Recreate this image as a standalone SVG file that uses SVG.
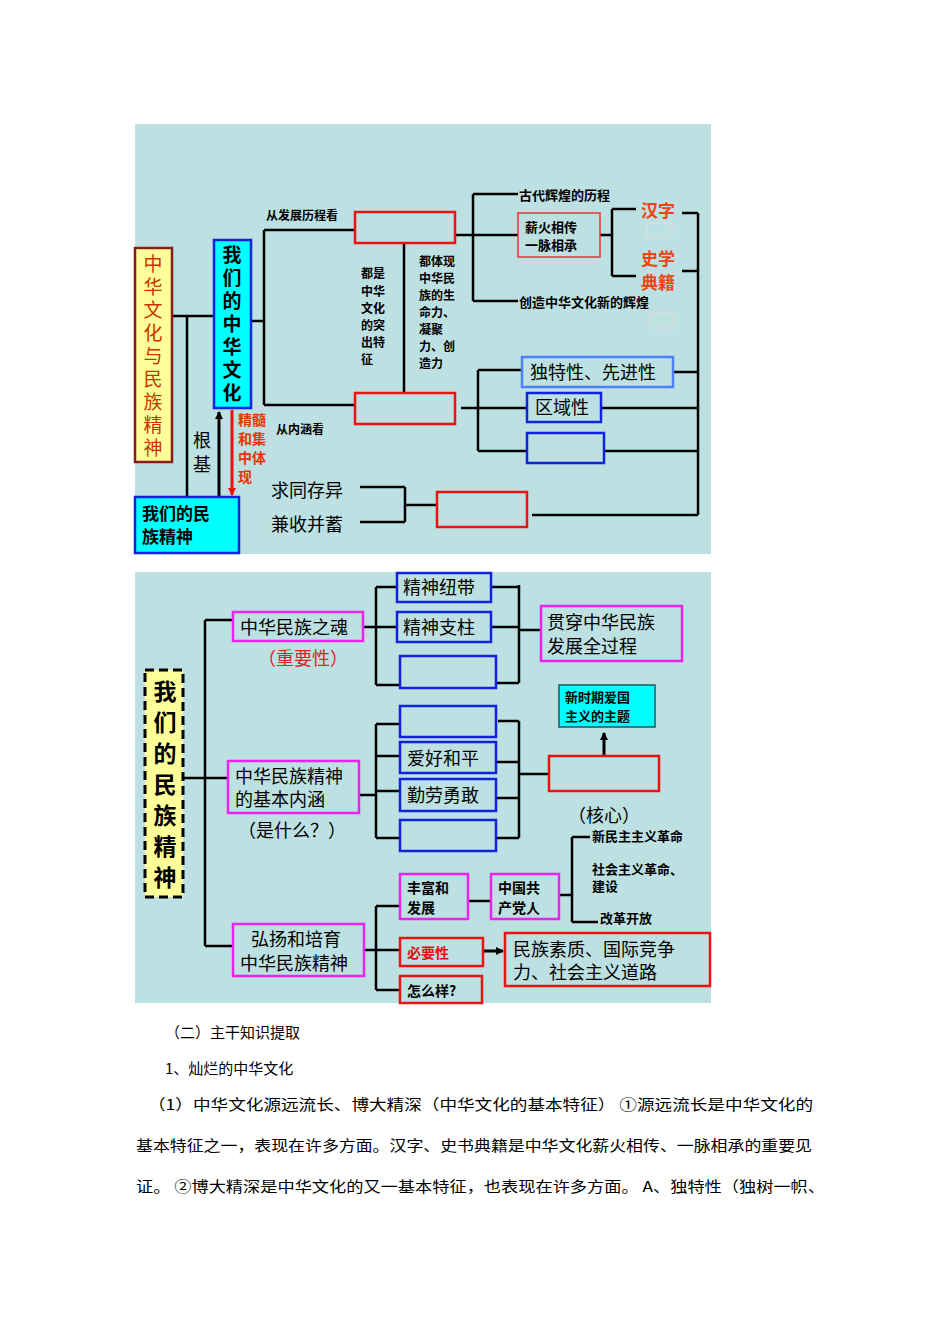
<svg xmlns="http://www.w3.org/2000/svg" width="950" height="1344" viewBox="0 0 950 1344">
<style>
text{font-family:"Noto Sans CJK SC",sans-serif;fill:#000}
.b{font-weight:bold}
.ln{stroke:#000;stroke-width:2.5;fill:none}
.rb{fill:none;stroke:#ee1111;stroke-width:2.5}
.bb{fill:none;stroke:#1122dd;stroke-width:2.5}
.mb{fill:none;stroke:#ee22ee;stroke-width:2.5}
.p{font-size:15px}
</style>
<defs>
<marker id="ab" markerWidth="8" markerHeight="8" refX="7" refY="4" orient="auto" markerUnits="userSpaceOnUse"><path d="M0,0L8,4L0,8z" fill="#000"/></marker>
<marker id="ar" markerWidth="8" markerHeight="8" refX="7" refY="4" orient="auto" markerUnits="userSpaceOnUse"><path d="M0,0L8,4L0,8z" fill="#ee1111"/></marker>
</defs>
<rect x="135" y="124" width="576" height="430" fill="#bde0e2"/>
<rect x="135" y="572" width="576" height="431" fill="#bde0e2"/>
<g id="connectors">
<path class="ln" d="M172,316H214M187,316V497M251,321H264M264,230V405M264,230H355M264,405H355M404,243V393M455,235H518M473,194V301M473,194H518M473,301H518M600,235H612M612,209V276M612,209H636M612,276H636M682,213H698M682,271H698M698,213V515M673,372H698M601,408H698M604,451H698M532,515H698M461,408H478M478,370V451M478,370H522M478,408H527M478,451H527M360,487H405M360,522H405M405,487V522M405,505H437"/>
<path d="M219,497V412" stroke="#000" stroke-width="3" marker-end="url(#ab)"/>
<path d="M232,410V495" stroke="#ee1111" stroke-width="3" marker-end="url(#ar)"/>
<path class="ln" d="M183,778H205M205,620V946M205,620H233M205,778H228M205,946H233M363,627H376M376,587V685M376,587H397M376,627H397M376,685H400M491,587H519M491,627H519M496,683H519M519,585V683M519,630H541M359,795H376M376,724V838M376,724H400M376,756H400M376,791H400M376,838H400M498,721H519M496,762H519M496,798H519M496,838H519M519,721V838M519,774H549M364,950H376M376,906V990M376,906H400M376,950H400M376,990H400M468,901H491M559,895H572M572,837V922M572,837H590M572,922H598"/>
<path d="M604,756V733" stroke="#000" stroke-width="3" marker-end="url(#ab)"/>
<path d="M483,951H503" stroke="#000" stroke-width="3" marker-end="url(#ab)"/>
</g>
<g id="n-root"><rect x="135" y="248" width="37" height="214" fill="#ffff99" stroke="#8b1a1a" stroke-width="2.5"/>
<text font-size="19" style="fill:#cc3300" text-anchor="middle"><tspan x="153" y="271">中</tspan><tspan x="153" y="294">华</tspan><tspan x="153" y="317">文</tspan><tspan x="153" y="340">化</tspan><tspan x="153" y="363">与</tspan><tspan x="153" y="386">民</tspan><tspan x="153" y="409">族</tspan><tspan x="153" y="432">精</tspan><tspan x="153" y="455">神</tspan></text></g>
<g id="n-culture"><rect x="214" y="240" width="37" height="168" fill="#00ffff" stroke="#1122dd" stroke-width="2.5"/>
<text class="b" font-size="19" text-anchor="middle"><tspan x="232" y="262">我</tspan><tspan x="232" y="285">们</tspan><tspan x="232" y="308">的</tspan><tspan x="232" y="331">中</tspan><tspan x="232" y="354">华</tspan><tspan x="232" y="377">文</tspan><tspan x="232" y="400">化</tspan></text></g>
<g id="n-spirit"><rect x="135" y="497" width="104" height="56" fill="#00ffff" stroke="#1122dd" stroke-width="2.5"/>
<text class="b" font-size="17"><tspan x="142" y="520">我们的民</tspan><tspan x="142" y="543">族精神</tspan></text></g>
<g id="labels-top">
<text class="b" x="266" y="220" font-size="12">从发展历程看</text>
<text class="b" x="276" y="434" font-size="12">从内涵看</text>
<text class="b" font-size="12"><tspan x="361" y="278">都是</tspan><tspan x="361" y="296">中华</tspan><tspan x="361" y="313">文化</tspan><tspan x="361" y="330">的突</tspan><tspan x="361" y="347">出特</tspan><tspan x="361" y="364">征</tspan></text>
<text class="b" font-size="12"><tspan x="419" y="266">都体现</tspan><tspan x="419" y="283">中华民</tspan><tspan x="419" y="300">族的生</tspan><tspan x="419" y="317">命力、</tspan><tspan x="419" y="334">凝聚</tspan><tspan x="419" y="351">力、创</tspan><tspan x="419" y="368">造力</tspan></text>
<text font-size="18"><tspan x="193" y="447">根</tspan><tspan x="193" y="471">基</tspan></text>
<text class="b" font-size="14" style="fill:#ee3300"><tspan x="238" y="425">精髓</tspan><tspan x="238" y="444">和集</tspan><tspan x="238" y="463">中体</tspan><tspan x="238" y="482">现</tspan></text>
<text class="b" x="519" y="200" font-size="13">古代辉煌的历程</text>
<text class="b" x="519" y="307" font-size="13">创造中华文化新的辉煌</text>
<text class="b" font-size="17" style="fill:#ee4411"><tspan x="641" y="217">汉字</tspan><tspan x="641" y="265">史学</tspan><tspan x="641" y="289">典籍</tspan></text>
<rect x="647" y="223" width="25" height="15" fill="none" stroke="#dddddd" stroke-width="1"/>
<rect x="650" y="313" width="25" height="15" fill="none" stroke="#dddddd" stroke-width="1"/>
<text font-size="18" x="271" y="497">求同存异</text>
<text font-size="18" x="271" y="531">兼收并蓄</text>
</g>
<g id="n-boxes-top">
<rect class="rb" x="355" y="212" width="100" height="31"/>
<rect class="rb" x="355" y="393" width="100" height="31"/>
<rect x="518" y="213" width="82" height="44" fill="none" stroke="#ee3333" stroke-width="1.5"/>
<text class="b" font-size="13"><tspan x="525" y="232">薪火相传</tspan><tspan x="525" y="250">一脉相承</tspan></text>
<rect x="522" y="357" width="151" height="30" fill="none" stroke="#4f7fff" stroke-width="2.5"/><text x="530" y="379" font-size="18">独特性、先进性</text>
<rect class="bb" x="527" y="393" width="74" height="29"/><text x="535" y="414" font-size="18">区域性</text>
<rect class="bb" x="527" y="433" width="77" height="30"/>
<rect class="rb" x="437" y="492" width="90" height="35"/>
</g>
<g id="n-root2"><rect x="145" y="670" width="38" height="227" fill="#ffff99" stroke="#000" stroke-width="3" stroke-dasharray="9,5"/>
<text class="b" font-size="23" text-anchor="middle"><tspan x="165" y="700">我</tspan><tspan x="165" y="731">们</tspan><tspan x="165" y="762">的</tspan><tspan x="165" y="793">民</tspan><tspan x="165" y="824">族</tspan><tspan x="165" y="855">精</tspan><tspan x="165" y="886">神</tspan></text></g>
<g id="n-soul"><rect class="mb" x="233" y="612" width="130" height="29"/><text x="240" y="634" font-size="18">中华民族之魂</text>
<text x="258" y="665" font-size="18" style="fill:#dd2222">（重要性）</text></g>
<g id="n-soul-kids">
<rect class="bb" x="397" y="573" width="94" height="29"/><text x="403" y="594" font-size="18">精神纽带</text>
<rect class="bb" x="397" y="612" width="94" height="30"/><text x="403" y="634" font-size="18">精神支柱</text>
<rect class="bb" x="400" y="656" width="96" height="32"/>
<rect class="mb" x="541" y="606" width="141" height="55"/><text font-size="18"><tspan x="547" y="629">贯穿中华民族</tspan><tspan x="547" y="653">发展全过程</tspan></text>
</g>
<g id="n-core">
<rect class="mb" x="228" y="761" width="131" height="52"/><text font-size="18"><tspan x="235" y="783">中华民族精神</tspan><tspan x="235" y="806">的基本内涵</tspan></text>
<text x="238" y="837" font-size="18">（是什么？）</text>
<rect class="bb" x="400" y="706" width="96" height="31"/>
<rect class="bb" x="400" y="742" width="96" height="31"/><text x="407" y="765" font-size="18">爱好和平</text>
<rect class="bb" x="400" y="779" width="96" height="32"/><text x="407" y="802" font-size="18">勤劳勇敢</text>
<rect class="bb" x="400" y="820" width="96" height="31"/>
<rect class="rb" x="549" y="756" width="110" height="35"/>
<rect x="559" y="685" width="96" height="42" fill="#00ffff" stroke="#1a5a5a" stroke-width="1.5"/><text class="b" font-size="13"><tspan x="565" y="702">新时期爱国</tspan><tspan x="565" y="721">主义的主题</tspan></text>
<text x="568" y="822" font-size="18">（核心）</text>
</g>
<g id="n-promote">
<rect class="mb" x="233" y="924" width="131" height="52"/><text font-size="18"><tspan x="251" y="946">弘扬和培育</tspan><tspan x="240" y="970">中华民族精神</tspan></text>
<rect class="mb" x="400" y="874" width="68" height="45"/><text class="b" font-size="14"><tspan x="407" y="893">丰富和</tspan><tspan x="407" y="913">发展</tspan></text>
<rect class="mb" x="491" y="874" width="68" height="45"/><text class="b" font-size="14"><tspan x="498" y="893">中国共</tspan><tspan x="498" y="913">产党人</tspan></text>
<text class="b" font-size="13"><tspan x="592" y="841">新民主主义革命</tspan><tspan x="592" y="874">社会主义革命、</tspan><tspan x="592" y="891">建设</tspan><tspan x="600" y="923">改革开放</tspan></text>
<rect class="rb" x="400" y="938" width="83" height="28"/><text class="b" x="407" y="958" font-size="14" style="fill:#dd1111">必要性</text>
<rect class="rb" x="505" y="933" width="205" height="53"/><text font-size="18"><tspan x="513" y="956">民族素质、国际竞争</tspan><tspan x="513" y="979">力、社会主义道路</tspan></text>
<rect class="rb" x="400" y="976" width="82" height="27"/><text class="b" x="407" y="996" font-size="14">怎么样?</text>
</g>
<g id="body">
<text class="p" x="165" y="1038">（二）主干知识提取</text>
<text class="p" x="165" y="1074">1、灿烂的中华文化</text>
<text class="p" x="148" y="1110" textLength="665" lengthAdjust="spacingAndGlyphs">（1）中华文化源远流长、博大精深（中华文化的基本特征） ①源远流长是中华文化的</text>
<text class="p" x="136" y="1151" textLength="676" lengthAdjust="spacingAndGlyphs">基本特征之一，表现在许多方面。汉字、史书典籍是中华文化薪火相传、一脉相承的重要见</text>
<text class="p" x="136" y="1192" textLength="689" lengthAdjust="spacingAndGlyphs">证。 ②博大精深是中华文化的又一基本特征，也表现在许多方面。 A、独特性（独树一帜、</text>
</g>
</svg>
